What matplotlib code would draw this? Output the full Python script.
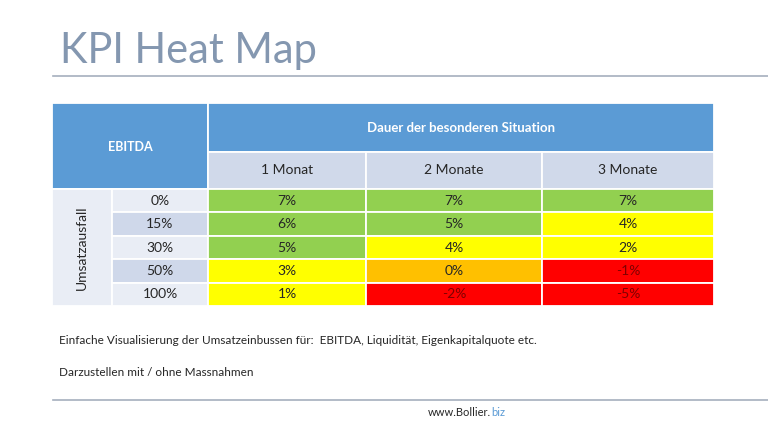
import matplotlib
matplotlib.use('Agg')
import matplotlib.pyplot as plt
from matplotlib.patches import Rectangle

plt.rcParams['font.family'] = ['Lato', 'DejaVu Sans']

row_labels = ['0%', '15%', '30%', '50%', '100%']
col_labels = ['1 Monat', '2 Monate', '3 Monate']
values = [[7, 7, 7],
          [6, 5, 4],
          [5, 4, 2],
          [3, 0, -1],
          [1, -2, -5]]

GREEN, YELLOW, ORANGE, RED = '#92D050', '#FFFF00', '#FFC000', '#FF0000'
HEAD = '#5B9BD5'
SUB = '#D0D9EA'
BAND_LIGHT = '#E9EDF5'
BAND_DARK = '#CFD8EA'


def cell_color(v):
    if v >= 5:
        return GREEN
    if v >= 1:
        return YELLOW
    if v == 0:
        return ORANGE
    return RED


def main():
    fig = plt.figure(figsize=(7.68, 4.32), dpi=100)
    ax = fig.add_axes([0, 0, 1, 1])
    ax.set_xlim(0, 768)
    ax.set_ylim(432, 0)
    ax.axis('off')

    # title and rules
    ax.text(60, 63, 'KPI Heat Map', fontsize=30, color='#8497B0',
            fontweight='normal', va='baseline', ha='left')
    ax.plot([53, 768], [76, 76], color='#A5AFBD', lw=1.2)
    ax.plot([53, 768], [400, 400], color='#A5AFBD', lw=1.2)

    # table layout (pixels)
    xe = [52, 112, 208, 366, 542, 714]
    top, mid, hb = 103, 152, 189
    rh = (306 - hb) / len(row_labels)
    ec = dict(edgecolor='white', lw=1.3)

    ax.add_patch(Rectangle((xe[0], top), xe[2] - xe[0], hb - top, facecolor=HEAD, **ec))
    ax.add_patch(Rectangle((xe[2], top), xe[5] - xe[2], mid - top, facecolor=HEAD, **ec))
    ax.text((xe[0] + xe[2]) / 2, (top + hb) / 2 + 1, 'EBITDA', color='white',
            fontweight='bold', fontsize=9, ha='center', va='center')
    ax.text((xe[2] + xe[5]) / 2, (top + mid) / 2, 'Dauer der besonderen Situation',
            color='white', fontweight='bold', fontsize=9.5, ha='center', va='center')

    for j, lab in enumerate(col_labels):
        ax.add_patch(Rectangle((xe[j + 2], mid), xe[j + 3] - xe[j + 2], hb - mid,
                               facecolor=SUB, **ec))
        ax.text((xe[j + 2] + xe[j + 3]) / 2, (mid + hb) / 2, lab, color='#262626',
                fontsize=10, ha='center', va='center')

    ax.add_patch(Rectangle((xe[0], hb), xe[1] - xe[0], rh * len(row_labels),
                           facecolor=BAND_LIGHT, **ec))
    ax.text((xe[0] + xe[1]) / 2, hb + rh * len(row_labels) / 2, 'Umsatzausfall',
            rotation=90, color='#262626', fontsize=10, ha='center', va='center')

    for i, lab in enumerate(row_labels):
        y0 = hb + i * rh
        band = BAND_DARK if i % 2 else BAND_LIGHT
        ax.add_patch(Rectangle((xe[1], y0), xe[2] - xe[1], rh, facecolor=band, **ec))
        ax.text((xe[1] + xe[2]) / 2, y0 + rh / 2, lab, color='#262626',
                fontsize=10, ha='center', va='center')
        for j, v in enumerate(values[i]):
            c = cell_color(v)
            ax.add_patch(Rectangle((xe[j + 2], y0), xe[j + 3] - xe[j + 2], rh,
                                   facecolor=c, **ec))
            tc = '#800000' if c == RED else '#262626'
            ax.text((xe[j + 2] + xe[j + 3]) / 2, y0 + rh / 2, '{}%'.format(v),
                    color=tc, fontsize=10, ha='center', va='center')

    # notes
    ax.text(59, 340, 'Einfache Visualisierung der Umsatzeinbussen für:  EBITDA, '
            'Liquidität, Eigenkapitalquote etc.', fontsize=8.5, color='#262626',
            ha='left', va='center')
    ax.text(59, 373, 'Darzustellen mit / ohne Massnahmen', fontsize=8.5,
            color='#262626', ha='left', va='center')

    t = ax.text(428, 413, 'www.Bollier.', fontsize=8, color='#262626',
                ha='left', va='center')
    fig.canvas.draw()
    bb = t.get_window_extent()
    ax.annotate('biz', xy=(bb.x1 + 0.5, 432 - 413), xycoords='figure pixels',
                fontsize=8, color='#5B9BD5', ha='left', va='center')

    fig.savefig('out.png', dpi=100)


if __name__ == '__main__':
    main()
